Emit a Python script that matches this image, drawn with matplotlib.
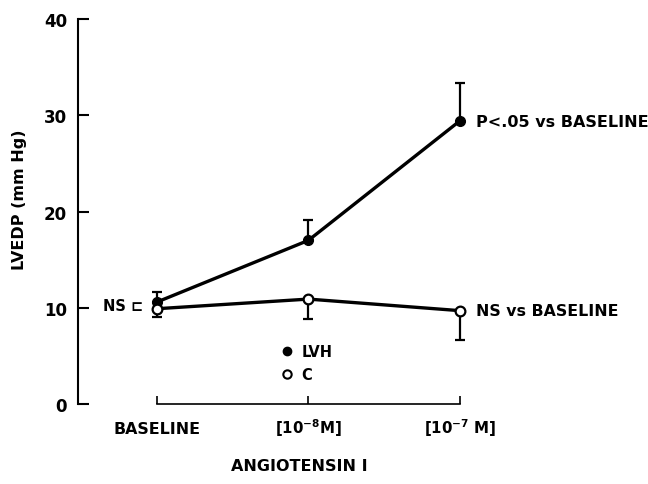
import numpy as np
import matplotlib
matplotlib.use("Agg")
import matplotlib.pyplot as plt
from matplotlib.lines import Line2D

# data
doses = ["BASELINE", r"[10$^{\mathbf{-8}}$M]", r"[10$^{\mathbf{-7}}$ M]"]
lvh = [10.6, 17.0, 29.4]
lvh_err_up = [1.0, 2.1, 3.9]
ctrl = [9.9, 10.9, 9.7]
ctrl_err_down = [0.9, 2.1, 3.0]

plt.rcParams['font.family'] = ['DejaVu Sans']
plt.rcParams['font.weight'] = 'bold'
plt.rcParams['axes.labelweight'] = 'bold'
plt.rcParams['mathtext.default'] = 'bf'

fig = plt.figure(figsize=(6.48, 4.85), dpi=100)
ax = fig.add_axes([78/648, 80/485, 542/648, 385/485])

x = np.arange(len(doses))
z = np.zeros(len(doses))

ax.errorbar(x, lvh, yerr=[z, lvh_err_up], color='black', lw=2.4, marker='o',
            ms=7, mfc='black', mec='black', elinewidth=1.6, capsize=3.3,
            capthick=1.6, clip_on=False, zorder=3)
ax.errorbar(x, ctrl, yerr=[ctrl_err_down, z], color='black', lw=2.4, marker='o',
            ms=7, mfc='white', mec='black', mew=1.6, elinewidth=1.6, capsize=3.3,
            capthick=1.6, clip_on=False, zorder=4)

ax.set_xlim(-0.523, 3.06)
ax.set_ylim(0, 40)

for s in ['top', 'right']:
    ax.spines[s].set_visible(False)
ax.spines['left'].set_linewidth(1.5)
ax.spines['bottom'].set_linewidth(1.2)
ax.spines['bottom'].set_bounds(0, 2)

ax.set_yticks([0, 10, 20, 30, 40])
ax.tick_params(axis='y', direction='in', length=8, width=1.5, pad=8, labelsize=12)
ax.set_xticks(x)
ax.set_xticklabels(doses)
ax.tick_params(axis='x', direction='in', length=6, width=1.2, pad=21, labelsize=10.8)
xl = ax.get_xticklabels()
for lab in xl:
    lab.set_va('baseline')
xl[0].set_fontsize(11.4)

ax.set_ylabel("LVEDP (mm Hg)", fontsize=11.5)
ax.yaxis.set_label_coords(-0.095, 0.532)

fig.text(299/648, 1 - 467/485, "ANGIOTENSIN I", ha='center', va='center', fontsize=11.5)

ax.annotate("P<.05 vs BASELINE", xy=(x[2], lvh[2]), xytext=(12, 0),
            textcoords='offset points', ha='left', va='center', fontsize=11.5)
ax.annotate("NS vs BASELINE", xy=(x[2], ctrl[2]), xytext=(12, 0),
            textcoords='offset points', ha='left', va='center', fontsize=11.3)
ax.annotate("NS \u228f", xy=(x[0], (lvh[0] + ctrl[0]) / 2), xytext=(-10, 0),
            textcoords='offset points', ha='right', va='center', fontsize=10.5)

handles = [Line2D([], [], ls='none', marker='o', ms=6, mfc='black', mec='black'),
           Line2D([], [], ls='none', marker='o', ms=6, mfc='white', mec='black', mew=1.5)]
ax.legend(handles, ["LVH", "C"], loc='center left', frameon=False,
          bbox_to_anchor=(268/648, 1 - 364/485), bbox_transform=fig.transFigure,
          handlelength=0.8, handletextpad=0.6, labelspacing=0.5, fontsize=10.5)

fig.savefig("out.png", dpi=100)
